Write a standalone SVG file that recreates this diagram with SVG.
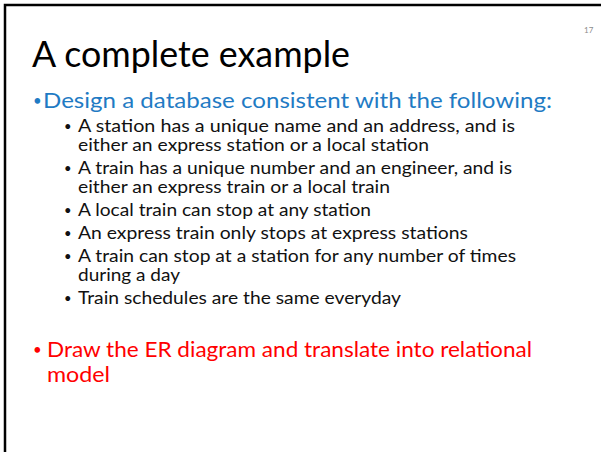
<svg xmlns="http://www.w3.org/2000/svg" width="601" height="452" viewBox="0 0 601 452">
  <style>
    text { font-family: Lato, "Open Sans", "Liberation Sans", sans-serif; }
    .title { font-size: 36px; fill: #000; }
    .lvl1 { font-size: 21.5px; }
    .blue { fill: #1f7bc4; }
    .red { fill: #ff0000; }
    .lvl2 { font-size: 17.5px; fill: #111; }
    .b1 { font-size: 15px; }
    .b2 { font-size: 13px; fill: #111; }
    .pg { font-size: 8px; fill: #8c8c8c; }
  </style>
  <rect width="601" height="452" fill="#fff"/>
  <!-- slide frame (extends past the right and bottom edges) -->
  <rect x="5" y="5" width="620" height="470" fill="none" stroke="#000" stroke-width="2.5"/>

  <text class="pg" x="584" y="33">17</text>
  <text class="title" x="32" y="67" textLength="318" lengthAdjust="spacingAndGlyphs">A complete example</text>

  <g id="intro">
    <text class="b1 blue" x="33" y="106">•</text>
    <text class="lvl1 blue" x="43" y="108" textLength="509" lengthAdjust="spacingAndGlyphs">Design a database consistent with the following:</text>
  </g>

  <g id="requirements">
    <text class="b2" x="64" y="131">•</text>
    <text class="lvl2" x="78" y="132" textLength="437" lengthAdjust="spacingAndGlyphs">A station has a unique name and an address, and is</text>
    <text class="lvl2" x="78" y="151" textLength="351" lengthAdjust="spacingAndGlyphs">either an express station or a local station</text>

    <text class="b2" x="64" y="173">•</text>
    <text class="lvl2" x="78" y="174" textLength="434" lengthAdjust="spacingAndGlyphs">A train has a unique number and an engineer, and is</text>
    <text class="lvl2" x="78" y="193" textLength="312" lengthAdjust="spacingAndGlyphs">either an express train or a local train</text>

    <text class="b2" x="64" y="215">•</text>
    <text class="lvl2" x="78" y="216" textLength="293" lengthAdjust="spacingAndGlyphs">A local train can stop at any station</text>

    <text class="b2" x="64" y="238">•</text>
    <text class="lvl2" x="78" y="239" textLength="390" lengthAdjust="spacingAndGlyphs">An express train only stops at express stations</text>

    <text class="b2" x="64" y="261">•</text>
    <text class="lvl2" x="78" y="262" textLength="438" lengthAdjust="spacingAndGlyphs">A train can stop at a station for any number of times</text>
    <text class="lvl2" x="78" y="281" textLength="102" lengthAdjust="spacingAndGlyphs">during a day</text>

    <text class="b2" x="64" y="303">•</text>
    <text class="lvl2" x="78" y="304" textLength="323" lengthAdjust="spacingAndGlyphs">Train schedules are the same everyday</text>
  </g>

  <g id="task">
    <text class="b1 red" x="33" y="355">•</text>
    <text class="lvl1 red" x="47" y="357" textLength="485" lengthAdjust="spacingAndGlyphs">Draw the ER diagram and translate into relational</text>
    <text class="lvl1 red" x="47" y="382" textLength="63" lengthAdjust="spacingAndGlyphs">model</text>
  </g>
</svg>
